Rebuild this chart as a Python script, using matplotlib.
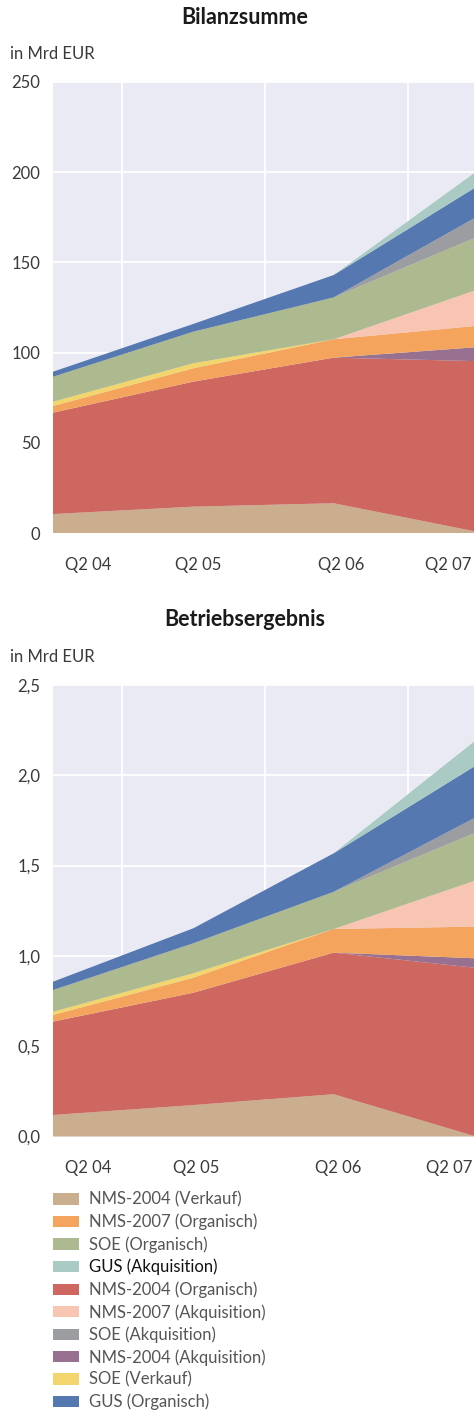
import numpy as np
import matplotlib
matplotlib.use("Agg")
import matplotlib.pyplot as plt
from matplotlib.patches import Patch

plt.rcParams['font.family'] = ['Lato', 'DejaVu Sans']

# ====== Daten ======
quartale = ["Q2 04", "Q2 05", "Q2 06", "Q2 07"]

serien = [
    "NMS-2004 (Verkauf)", "NMS-2004 (Organisch)", "NMS-2004 (Akquisition)",
    "NMS-2007 (Organisch)", "SOE (Verkauf)", "NMS-2007 (Akquisition)",
    "SOE (Organisch)", "SOE (Akquisition)", "GUS (Organisch)", "GUS (Akquisition)",
]

# Bilanzsumme, Mrd EUR (Schichtdicken, von unten nach oben)
bilanz = {
    "NMS-2004 (Verkauf)":     [10.5, 14.6, 16.5, 1.0],
    "NMS-2004 (Organisch)":   [56.2, 69.3, 80.7, 94.3],
    "NMS-2004 (Akquisition)": [0.0, 0.0, 0.0, 7.6],
    "NMS-2007 (Organisch)":   [3.7, 7.4, 10.2, 11.8],
    "SOE (Verkauf)":          [2.4, 2.8, 0.0, 0.0],
    "NMS-2007 (Akquisition)": [0.0, 0.0, 0.0, 19.6],
    "SOE (Organisch)":        [13.8, 17.5, 23.2, 29.1],
    "SOE (Akquisition)":      [0.0, 0.0, 0.0, 11.0],
    "GUS (Organisch)":        [2.8, 4.3, 12.4, 16.7],
    "GUS (Akquisition)":      [0.0, 0.0, 0.0, 8.3],
}

# Betriebsergebnis, Mrd EUR
betrieb = {
    "NMS-2004 (Verkauf)":     [0.119, 0.174, 0.234, 0.003],
    "NMS-2004 (Organisch)":   [0.517, 0.622, 0.784, 0.932],
    "NMS-2004 (Akquisition)": [0.0, 0.0, 0.0, 0.052],
    "NMS-2007 (Organisch)":   [0.037, 0.083, 0.131, 0.175],
    "SOE (Verkauf)":          [0.018, 0.025, 0.0, 0.0],
    "NMS-2007 (Akquisition)": [0.0, 0.0, 0.0, 0.253],
    "SOE (Organisch)":        [0.120, 0.166, 0.206, 0.264],
    "SOE (Akquisition)":      [0.0, 0.0, 0.0, 0.083],
    "GUS (Organisch)":        [0.046, 0.083, 0.213, 0.286],
    "GUS (Akquisition)":      [0.0, 0.0, 0.0, 0.138],
}

farben = {
    "NMS-2004 (Verkauf)":     "#CAAE8E",
    "NMS-2004 (Organisch)":   "#CE675F",
    "NMS-2004 (Akquisition)": "#97718F",
    "NMS-2007 (Organisch)":   "#F4A45D",
    "SOE (Verkauf)":          "#F2D56C",
    "NMS-2007 (Akquisition)": "#F7C5B1",
    "SOE (Organisch)":        "#ADB98E",
    "SOE (Akquisition)":      "#9C9DA0",
    "GUS (Organisch)":        "#5678B1",
    "GUS (Akquisition)":      "#AACBC3",
}

legende_reihenfolge = [
    "NMS-2004 (Verkauf)", "NMS-2007 (Organisch)", "SOE (Organisch)",
    "GUS (Akquisition)", "NMS-2004 (Organisch)", "NMS-2007 (Akquisition)",
    "SOE (Akquisition)", "NMS-2004 (Akquisition)", "SOE (Verkauf)",
    "GUS (Organisch)",
]
# ==================

W, H = 474, 1411
fig = plt.figure(figsize=(W / 100, H / 100), dpi=100)
x = np.arange(len(quartale))

def px_to_x(p):
    return (p - 53) / (W - 53) * 3

def panel(top_px, bottom_px, daten, ymax, yticks, ylabels, titel, titel_y, einheit_y, label_px):
    ax = fig.add_axes([53 / W, 1 - bottom_px / H, 1 - 53 / W, (bottom_px - top_px) / H])
    ax.set_facecolor("#E9EAF3")
    ax.stackplot(x, [daten[s] for s in serien], colors=[farben[s] for s in serien],
                 linewidth=0)
    ax.set_xlim(0, 3)
    ax.set_ylim(0, ymax)
    ax.set_yticks(yticks)
    ax.set_yticklabels(ylabels)
    ax.set_xticks([px_to_x(p) for p in label_px])
    ax.set_xticklabels(quartale)
    ax.set_xticks([px_to_x(p) for p in (122, 265, 408)], minor=True)
    ax.grid(True, which="major", axis="y", color="white", linewidth=1.3)
    ax.grid(True, which="minor", axis="x", color="white", linewidth=1.3)
    ax.set_axisbelow(True)
    ax.tick_params(which="both", length=0, labelsize=12, colors="#3a3a3a")
    ax.tick_params(axis="x", pad=17)
    ax.tick_params(axis="y", pad=9)
    for sp in ax.spines.values():
        sp.set_visible(False)
    fig.text(245 / W, 1 - titel_y / H, titel, ha="center", va="center",
             fontsize=15.5, fontweight="bold", color="#1a1a1a")
    fig.text(10 / W, 1 - einheit_y / H, "in Mrd EUR", ha="left", va="center",
             fontsize=12, color="#3a3a3a")
    return ax

panel(82, 533, bilanz, 250, [0, 50, 100, 150, 200, 250],
      ["0", "50", "100", "150", "200", "250"],
      "Bilanzsumme", 17, 54, [88, 198, 341, 448])

panel(685, 1136.5, betrieb, 2.5, [0, 0.5, 1.0, 1.5, 2.0, 2.5],
      ["0,0", "0,5", "1,0", "1,5", "2,0", "2,5"],
      "Betriebsergebnis", 620, 657, [88, 196, 338, 449])

# Legende
handles = [Patch(facecolor=farben[s], edgecolor="none") for s in legende_reihenfolge]
leg = fig.legend(handles, legende_reihenfolge, loc="upper left",
                 bbox_to_anchor=(46 / W, 1 - 1185 / H), frameon=False,
                 fontsize=12, handlelength=1.56, handleheight=0.66,
                 handletextpad=0.6, labelspacing=0.36, borderaxespad=0)
for t, s in zip(leg.get_texts(), legende_reihenfolge):
    t.set_color("#111111" if s == "GUS (Akquisition)" else "#555555")

fig.savefig("out.png", dpi=100)
